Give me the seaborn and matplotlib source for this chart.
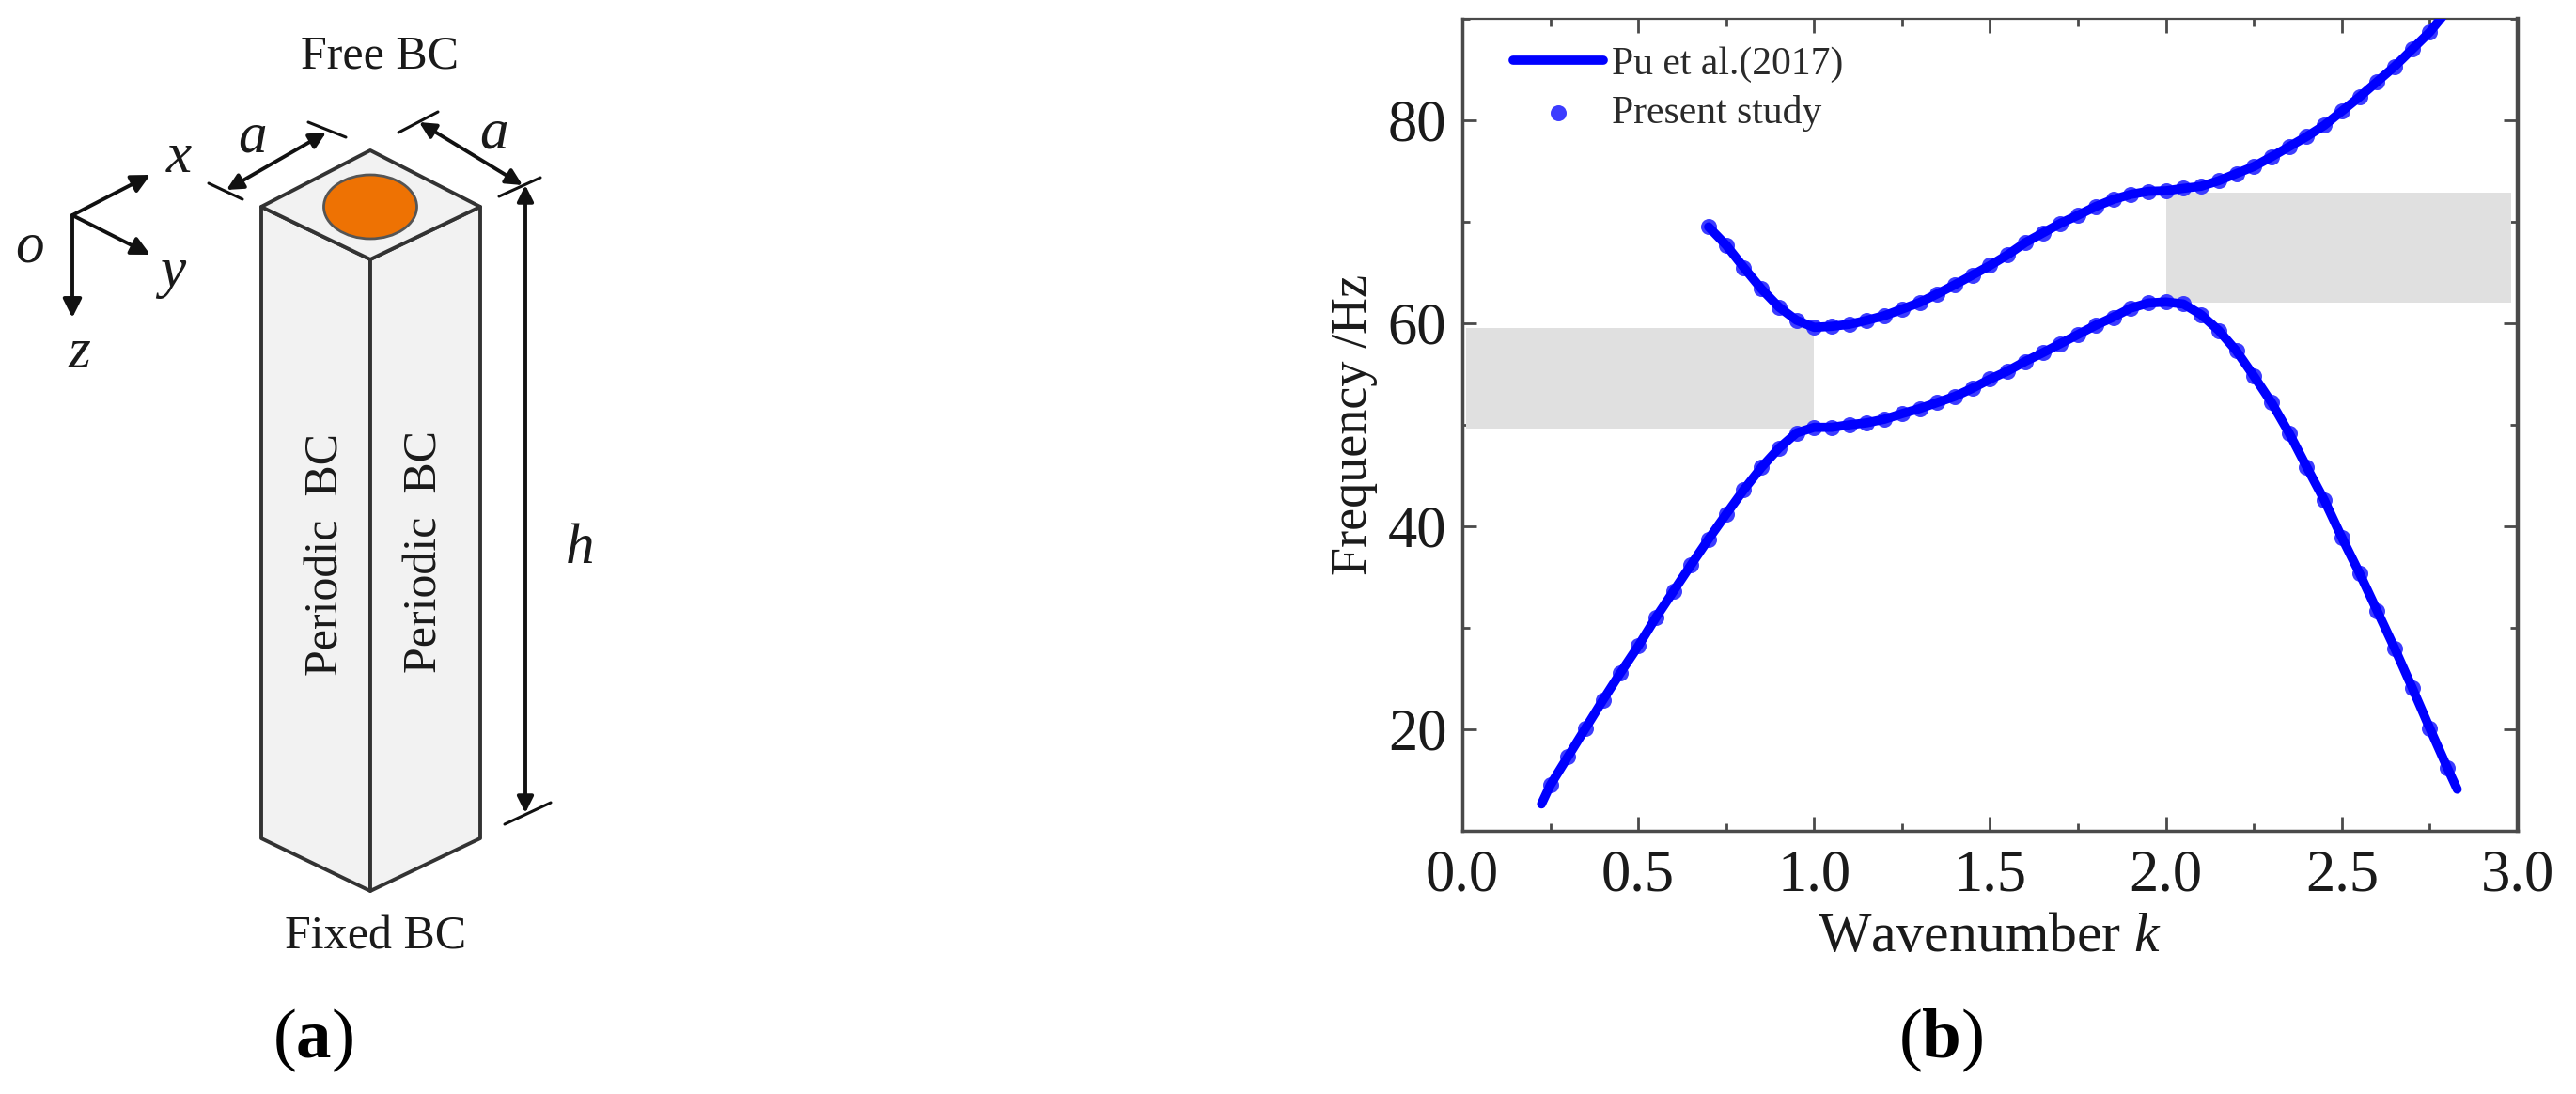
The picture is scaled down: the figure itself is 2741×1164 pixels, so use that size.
import matplotlib
matplotlib.use("Agg")
import matplotlib.pyplot as plt
import seaborn as sns
from matplotlib.patches import Ellipse, Polygon
from matplotlib.ticker import MultipleLocator

WIDTH, HEIGHT = 2741, 1164

# dispersion curves
lower_k = [0.25, 0.30, 0.35, 0.40, 0.45, 0.50, 0.55, 0.60, 0.65, 0.70, 0.75, 0.80, 0.85, 0.90,
           0.95, 1.00, 1.05, 1.10, 1.15, 1.20, 1.25, 1.30, 1.35, 1.40, 1.45, 1.50, 1.55, 1.60,
           1.65, 1.70, 1.75, 1.80, 1.85, 1.90, 1.95, 2.00, 2.05, 2.10, 2.15, 2.20, 2.25, 2.30,
           2.35, 2.40, 2.45, 2.50, 2.55, 2.60, 2.65, 2.70, 2.75, 2.80]
lower_f = [14.5, 17.3, 20.1, 22.9, 25.6, 28.2, 31.0, 33.6, 36.2, 38.75, 41.2, 43.6, 45.8, 47.7,
           49.2, 49.75, 49.75, 50.0, 50.2, 50.55, 51.1, 51.6, 52.2, 52.8, 53.6, 54.5, 55.3, 56.25,
           57.1, 58.0, 58.9, 59.8, 60.6, 61.5, 62.0, 62.1, 61.9, 60.85, 59.3, 57.3, 54.8, 52.2,
           49.2, 45.85, 42.6, 38.9, 35.4, 31.7, 28.0, 24.1, 20.1, 16.2]
upper_k = [0.70, 0.75, 0.80, 0.85, 0.90, 0.95, 1.00, 1.05, 1.10, 1.15, 1.20, 1.25, 1.30, 1.35,
           1.40, 1.45, 1.50, 1.55, 1.60, 1.65, 1.70, 1.75, 1.80, 1.85, 1.90, 1.95, 2.00, 2.05,
           2.10, 2.15, 2.20, 2.25, 2.30, 2.35, 2.40, 2.45, 2.50, 2.55, 2.60, 2.65, 2.70, 2.75]
upper_f = [69.5, 67.7, 65.5, 63.4, 61.6, 60.3, 59.6, 59.7, 59.9, 60.3, 60.75, 61.4, 62.05, 62.9,
           63.8, 64.75, 65.7, 66.75, 67.95, 68.9, 69.85, 70.65, 71.5, 72.2, 72.7, 73.0, 73.05, 73.3,
           73.5, 74.05, 74.75, 75.45, 76.4, 77.4, 78.4, 79.5, 80.9, 82.3, 83.8, 85.3, 87.0, 88.7]
# the reference curve runs a little past the study points
lower_line_k = [0.225] + lower_k + [2.828]
lower_line_f = [12.65] + lower_f + [14.1]
upper_line_k = upper_k + [2.79]
upper_line_f = upper_f + [90.4]

# band gaps
gap1_k = [0.01, 1.0]
gap1_low = [49.65, 49.65]
gap1_high = [59.5, 59.5]
gap2_k = [2.0, 2.98]
gap2_low = [62.06, 62.06]
gap2_high = [72.9, 72.9]

x_ticks = [0.0, 0.5, 1.0, 1.5, 2.0, 2.5, 3.0]
y_ticks = [20, 40, 60, 80]

# schematic of the unit cell, in picture pixels
box_left = [(278, 220), (394, 276), (394, 948), (278, 892)]
box_right = [(394, 276), (511, 220), (511, 892), (394, 948)]
box_top = [(278, 220), (394, 160), (511, 220), (394, 276)]
inclusion = (394, 220, 99, 68)
coord_arrows = [((77, 229), (160, 186)), ((77, 229), (160, 271)), ((77, 229), (77, 338))]
dim_arrows = [((241, 202), (347, 141)), ((446, 130), (556, 197)), ((559, 197), (559, 865))]
dim_ticks = [((222, 195), (258, 212)), ((328, 130), (368, 146)), ((424, 141), (466, 119)),
             ((531, 209), (575, 189)), ((537, 877), (586, 854))]

BLUE = "#0000FF"
DOT = "#3C3CFF"
DARK = "#4A4A4A"

sns.set_theme(style="ticks")
plt.rcParams["font.family"] = ["Liberation Serif", "DejaVu Serif"]
plt.rcParams["mathtext.fontset"] = "custom"
plt.rcParams["mathtext.rm"] = "Liberation Serif"
plt.rcParams["mathtext.it"] = "Liberation Serif:italic"
plt.rcParams["mathtext.bf"] = "Liberation Serif:bold"

fig = plt.figure(figsize=(WIDTH / 100, HEIGHT / 100), dpi=100, facecolor="white")

# overlay in pixel coordinates for panel (a) and the captions
over = fig.add_axes([0, 0, 1, 1])
over.set_xlim(0, WIDTH)
over.set_ylim(HEIGHT, 0)
over.axis("off")

for verts in (box_left, box_right, box_top):
    over.add_patch(Polygon(verts, closed=True, fc="#F2F2F2", ec="#333333", lw=2.8, joinstyle="round"))
cx, cy, cw, ch = inclusion
over.add_patch(Ellipse((cx, cy), cw, ch, fc="#EE7203", ec="#555555", lw=2))

for start, end in coord_arrows:
    over.annotate("", xy=end, xytext=start,
                  arrowprops=dict(arrowstyle="-|>", color="#111111", lw=2.8, mutation_scale=30,
                                  shrinkA=0, shrinkB=0))
for start, end in dim_arrows:
    over.annotate("", xy=end, xytext=start,
                  arrowprops=dict(arrowstyle="<|-|>", color="#111111", lw=2.8, mutation_scale=26,
                                  shrinkA=0, shrinkB=0))
for start, end in dim_ticks:
    over.plot([start[0], end[0]], [start[1], end[1]], color="#111111", lw=2.2)

text_kw = dict(ha="center", va="center", color="#1A1A1A")
over.text(404, 60, "Free BC", fontsize=36, **text_kw)
over.text(400, 997, "Fixed BC", fontsize=36, **text_kw)
over.text(347, 590, "Periodic  BC", fontsize=36, rotation=90, **text_kw)
over.text(452, 587, "Periodic  BC", fontsize=36, rotation=90, **text_kw)
for label, lx, ly in [("x", 190, 168), ("y", 184, 290), ("o", 31, 264), ("z", 85, 376),
                      ("a", 268, 147), ("a", 525, 143), ("h", 617, 584)]:
    over.text(lx, ly, label, fontsize=44, style="italic", **text_kw)
over.text(333, 1107, r"($\mathbf{a}$)", fontsize=54, ha="center", va="center", color="black")
over.text(2065, 1107, r"($\mathbf{b}$)", fontsize=54, ha="center", va="center", color="black")

# panel (b)
ax = fig.add_axes([1556 / WIDTH, 1 - 884 / HEIGHT, (2679 - 1556) / WIDTH, (884 - 20) / HEIGHT])
ax.set_facecolor("none")
ax.fill_between(gap1_k, gap1_low, gap1_high, color="#E0E0E0", lw=0, zorder=1)
ax.fill_between(gap2_k, gap2_low, gap2_high, color="#E0E0E0", lw=0, zorder=1)

sns.scatterplot(x=lower_k, y=lower_f, ax=ax, color=DOT, s=150, linewidth=0, zorder=2, label="Present study")
sns.scatterplot(x=upper_k, y=upper_f, ax=ax, color=DOT, s=150, linewidth=0, zorder=2)
sns.lineplot(x=lower_line_k, y=lower_line_f, ax=ax, color=BLUE, linewidth=7, errorbar=None,
             zorder=3, label="Pu et al.(2017)")
sns.lineplot(x=upper_line_k, y=upper_line_f, ax=ax, color=BLUE, linewidth=7, errorbar=None, zorder=3)

ax.set_xlim(0, 3.0)
ax.set_ylim(10, 90)
ax.set_xticks(x_ticks)
ax.set_xticklabels([f"{t:.1f}" for t in x_ticks])
ax.set_yticks(y_ticks)
ax.xaxis.set_minor_locator(MultipleLocator(0.25))
ax.yaxis.set_minor_locator(MultipleLocator(10))
ax.tick_params(which="major", direction="in", top=True, right=True, length=11, width=2, color=DARK,
               labelsize=45, labelcolor="#1A1A1A")
ax.tick_params(which="minor", direction="in", top=True, right=True, length=5.5, width=2, color=DARK)
ax.tick_params(axis="x", which="major", pad=14)
ax.tick_params(axis="y", which="major", pad=12)
for side, width in [("left", 2.5), ("bottom", 2.5), ("right", 3.2), ("top", 1.6)]:
    ax.spines[side].set_linewidth(width)
    ax.spines[side].set_color(DARK)
    ax.spines[side].set_visible(True)

ax.set_xlabel(r"Wavenumber $\mathit{k}$", fontsize=43, color="#1A1A1A", labelpad=7)
ax.set_ylabel("Frequency /Hz", fontsize=39, color="#1A1A1A", labelpad=8)

handles, labels = ax.get_legend_handles_labels()
order = [labels.index("Pu et al.(2017)"), labels.index("Present study")]
ax.legend([handles[i] for i in order], [labels[i] for i in order], loc="upper left",
          bbox_to_anchor=(0.022, 1.0), frameon=False, fontsize=30, handlelength=2.3, handletextpad=0.22,
          labelspacing=0.32, borderpad=0.4, borderaxespad=0.3, labelcolor="#2A2A2A")

fig.savefig("out.png", dpi=100, facecolor="white")
